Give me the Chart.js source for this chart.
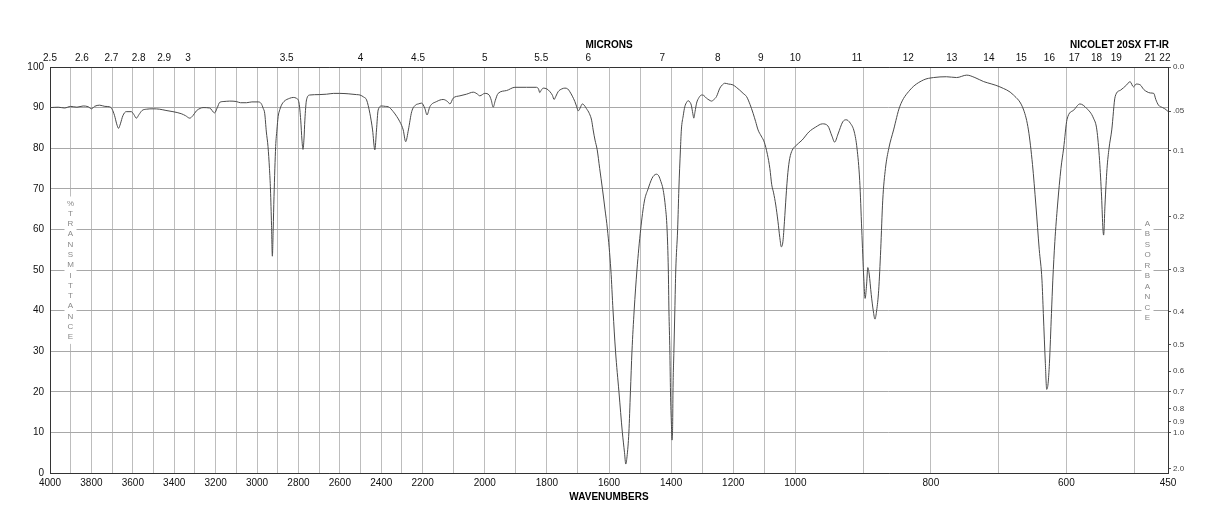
<!DOCTYPE html>
<html>
<head>
<meta charset="utf-8">
<script src="https://cdn.jsdelivr.net/npm/chart.js@4.4.0/dist/chart.umd.min.js"></script>
<style>
  html, body { margin: 0; padding: 0; background: #fff; }
  #wrap { width: 1218px; height: 528px; }
</style>
</head>
<body>
<div id="wrap"><canvas id="irChart" width="1218" height="528"></canvas></div>
<script>
// spectrum (cm-1, %T)
const wavenumbers = [
  4000, 3960, 3930, 3900, 3870, 3840, 3815, 3800, 3785, 3760, 3735, 3712, 3700, 3688, 3678, 3669, 3660, 3648, 3632, 3607,
  3595, 3583, 3570, 3555, 3535, 3500, 3470, 3440, 3406, 3366, 3345, 3325, 3310, 3293, 3275, 3261, 3229, 3205, 3192, 3180,
  3160, 3132, 3100, 3080, 3051, 3025, 2995, 2980, 2970, 2963, 2955, 2947, 2940, 2935, 2930, 2926, 2922, 2918, 2910, 2904,
  2898, 2890, 2882, 2870, 2842, 2825, 2810, 2797, 2789, 2783, 2778, 2773, 2769, 2761, 2745, 2700, 2664, 2630, 2600, 2560,
  2520, 2503, 2485, 2471, 2455, 2442, 2431, 2423, 2415, 2398, 2380, 2366, 2342, 2325, 2310, 2294, 2282, 2269, 2253, 2235,
  2221, 2205, 2193, 2186, 2177, 2155, 2134, 2120, 2112, 2102, 2080, 2059, 2037, 2025, 2016, 2000, 1986, 1979, 1973, 1966,
  1957, 1930, 1903, 1866, 1834, 1827, 1823, 1818, 1812, 1800, 1790, 1782, 1777, 1771, 1764, 1752, 1742, 1733, 1726, 1710,
  1704, 1699, 1693, 1686, 1680, 1673, 1663, 1656, 1651, 1645, 1638, 1630, 1621, 1613, 1605, 1594, 1587, 1579, 1568, 1557,
  1550, 1546, 1542, 1536, 1531, 1526, 1519, 1510, 1498, 1486, 1474, 1462, 1455, 1447, 1440, 1433, 1426, 1419, 1413, 1409,
  1407, 1404, 1402, 1399, 1397, 1395, 1394, 1391, 1388, 1385, 1379, 1375, 1370, 1367, 1361, 1356, 1350, 1345, 1340, 1335,
  1330, 1327, 1323, 1318, 1310, 1302, 1295, 1286, 1278, 1270, 1262, 1254, 1243, 1235, 1227, 1215, 1201, 1190, 1179, 1168,
  1157, 1146, 1136, 1128, 1120, 1110, 1100, 1090, 1082, 1076, 1070, 1063, 1056, 1050, 1045, 1040, 1035, 1030, 1024, 1018,
  1010, 1000, 990, 980, 970, 960, 952, 946, 942, 937, 930, 925, 919, 913, 909, 905, 902, 899, 897, 895,
  893, 891, 888, 885, 882.5, 880, 877, 874, 871, 867, 862, 855, 846, 831, 811, 796, 777, 762, 747, 735,
  722, 710, 698, 678, 663, 656, 650, 645, 640, 636, 634, 631, 629, 627, 625, 622, 620, 617, 613, 608,
  604, 599, 589, 580, 570, 560, 555, 551, 548, 546, 545, 543, 540, 537, 533, 528, 520, 511, 506, 501,
  497, 491, 486, 481, 476, 471, 468, 464, 458, 452, 450
];
const transmittance = [
  90.0, 90.1, 89.9, 90.3, 90.1, 90.4, 90.2, 89.7, 90.3, 90.6, 90.3, 90.2, 89.6, 88.0, 86.0, 84.9, 86.0, 88.0, 89.0, 89.0,
  88.3, 87.4, 88.3, 89.3, 89.6, 89.7, 89.6, 89.3, 89.0, 88.5, 88.0, 87.4, 88.0, 89.2, 89.8, 90.0, 89.9, 88.7, 90.0, 91.3,
  91.5, 91.6, 91.5, 91.2, 91.2, 91.4, 91.4, 91.0, 89.8, 88.6, 84.0, 80.4, 75.0, 69.7, 61.0, 53.4, 60.0, 68.1, 80.4, 84.5,
  87.8, 89.5, 90.6, 91.5, 92.3, 92.5, 92.3, 91.1, 86.9, 82.0, 79.7, 82.5, 86.9, 91.9, 93.1, 93.2, 93.3, 93.5, 93.5, 93.4,
  93.2, 93.1, 92.6, 91.9, 88.6, 84.5, 79.6, 84.5, 89.4, 90.4, 90.3, 90.2, 89.0, 87.8, 86.5, 84.5, 81.6, 84.5, 89.0, 90.6,
  90.9, 91.1, 89.8, 88.2, 90.2, 91.5, 92.0, 91.5, 90.9, 92.3, 92.9, 93.3, 93.8, 93.4, 92.9, 93.5, 93.1, 91.8, 90.1, 91.8,
  93.5, 94.2, 95.0, 95.0, 95.0, 94.6, 93.7, 94.3, 94.8, 94.6, 93.9, 93.0, 92.0, 92.8, 93.9, 94.6, 94.8, 94.6, 93.9, 91.5,
  90.2, 89.2, 89.9, 90.9, 90.6, 89.8, 88.5, 86.9, 84.5, 82.0, 79.6, 75.0, 69.9, 65.0, 60.0, 50.0, 40.0, 30.0, 20.0, 10.0,
  5.0, 2.2, 4.0, 10.0, 20.0, 30.0, 40.0, 50.0, 60.0, 67.0, 70.0, 72.5, 73.3, 73.6, 73.2, 71.8, 69.9, 66.0, 60.0, 50.0,
  40.0, 30.0, 20.0, 12.0, 8.1, 12.0, 20.0, 30.0, 40.0, 50.0, 60.0, 70.0, 79.6, 84.5, 88.0, 90.2, 91.3, 91.7, 91.4, 90.6,
  88.5, 87.4, 89.0, 91.1, 92.5, 93.1, 93.0, 92.3, 91.9, 91.6, 92.0, 92.7, 94.8, 95.6, 96.0, 95.8, 95.6, 95.0, 94.3, 93.5,
  92.7, 90.8, 88.6, 86.6, 84.5, 83.0, 81.5, 78.5, 75.0, 71.0, 69.0, 66.0, 62.0, 58.0, 55.7, 57.0, 62.0, 68.0, 74.0, 77.5,
  79.5, 80.5, 82.0, 84.0, 85.2, 86.0, 85.5, 83.0, 81.5, 83.5, 86.5, 87.0, 86.2, 84.0, 80.0, 72.0, 60.0, 48.0, 43.0, 46.0,
  50.6, 49.0, 44.0, 40.0, 37.9, 40.0, 45.0, 55.0, 67.2, 75.0, 80.0, 84.5, 90.2, 94.3, 96.8, 97.4, 97.6, 97.4, 98.0, 97.4,
  96.4, 95.8, 95.1, 93.1, 89.4, 84.5, 76.0, 66.0, 55.0, 47.5, 39.3, 27.0, 20.6, 22.0, 27.0, 39.3, 47.5, 57.0, 66.0, 75.0,
  80.0, 87.1, 89.4, 90.9, 89.8, 87.4, 84.5, 77.0, 68.0, 60.0, 58.6, 66.0, 75.0, 80.0, 84.5, 92.7, 94.3, 95.6, 96.4, 95.1,
  95.8, 95.6, 94.5, 93.9, 93.6, 93.5, 92.0, 90.6, 90.0, 89.4, 89.0
];

// tick labels
const wavenumberLabels = [4000, 3800, 3600, 3400, 3200, 3000, 2800, 2600, 2400, 2200, 2000, 1800, 1600, 1400, 1200, 1000, 800, 600, 450];
const micronLabels = [2.5, 2.6, 2.7, 2.8, 2.9, 3, 3.5, 4, 4.5, 5, 5.5, 6, 7, 8, 9, 10, 11, 12, 13, 14, 15, 16, 17, 18, 19, 21, 22];
const percentTicks = [0, 10, 20, 30, 40, 50, 60, 70, 80, 90, 100];
const absorbanceTicks = [0, 0.05, 0.1, 0.2, 0.3, 0.4, 0.5, 0.6, 0.7, 0.8, 0.9, 1.0, 2.0];
const absorbanceLabels = ["0.0", ".05", "0.1", "0.2", "0.3", "0.4", "0.5", "0.6", "0.7", "0.8", "0.9", "1.0", "2.0"];

// the x axis is three equal panels: 4000-2200, 2200-1000, 1000-450
function pos(w) {
  if (w >= 2200) return (4000 - w) / 1800;
  if (w >= 1000) return 1 + (2200 - w) / 1200;
  return 2 + (1000 - w) / 550;
}

// a vertical grid line every 100 cm-1
const gridWavenumbers = [];
for (let w = 4000; w >= 500; w -= 100) gridWavenumbers.push(w);
gridWavenumbers.push(450);

const points = wavenumbers.map((w, i) => ({ x: pos(w), y: transmittance[i] }));

const FONT = "'Liberation Sans', Arial, sans-serif";

const decorations = {
  id: "decorations",
  beforeDatasetsDraw(chart) {
    const { ctx, chartArea: a } = chart;
    const mid = (a.left + a.right) / 2;
    ctx.save();
    ctx.fillStyle = "#000";
    ctx.font = "bold 10px " + FONT;
    ctx.textBaseline = "middle";
    ctx.textAlign = "center";
    ctx.fillText("MICRONS", mid, 45);
    ctx.fillText("WAVENUMBERS", mid, 497);
    ctx.textAlign = "right";
    ctx.fillText("NICOLET 20SX FT-IR", a.right + 1, 45);

    // stacked vertical captions
    const stack = (text, x, y0, step) => {
      ctx.fillStyle = "#fff";
      ctx.fillRect(x - 6, y0 - 7, 12, step * (text.length - 1) + 14);
      ctx.fillStyle = "#888";
      ctx.font = "8px " + FONT;
      ctx.textAlign = "center";
      [...text].forEach((c, i) => ctx.fillText(c, x, y0 + i * step));
    };
    stack("%TRANSMITTANCE", 70.5, 203.5, 10.26);
    stack("ABSORBANCE", 1147.5, 223.5, 10.5);
    ctx.restore();
  }
};

new Chart(document.getElementById("irChart"), {
  type: "line",
  data: {
    datasets: [{
      data: points,
      borderColor: "#4a4a4a",
      borderWidth: 1,
      pointRadius: 0,
      cubicInterpolationMode: "monotone",
      xAxisID: "x",
      yAxisID: "y"
    }]
  },
  options: {
    responsive: false,
    animation: false,
    devicePixelRatio: 1,
    layout: { padding: 0 },
    plugins: { legend: { display: false }, tooltip: { enabled: false } },
    scales: {
      x: {
        type: "linear",
        position: "bottom",
        min: 0, max: 3,
        afterBuildTicks: s => { s.ticks = gridWavenumbers.map(w => ({ value: pos(w) })); },
        afterFit: s => { s.height = 55; },
        grid: { color: "#bdbdbd", lineWidth: 1, drawTicks: false },
        border: { display: true, color: "#333", width: 1 },
        ticks: {
          autoSkip: false, maxRotation: 0, padding: 4,
          color: "#111", font: { family: FONT, size: 10 },
          callback: (v, i) => wavenumberLabels.includes(gridWavenumbers[i]) ? String(gridWavenumbers[i]) : ""
        }
      },
      xTop: {
        type: "linear",
        position: "top",
        min: 0, max: 3,
        afterBuildTicks: s => { s.ticks = micronLabels.map(m => ({ value: pos(10000 / m) })); },
        afterFit: s => { s.height = 67; },
        grid: { display: false, drawTicks: false },
        border: { display: true, color: "#333", width: 1 },
        ticks: {
          autoSkip: false, maxRotation: 0, padding: 3,
          color: "#111", font: { family: FONT, size: 10 },
          callback: (v, i) => String(micronLabels[i])
        }
      },
      y: {
        type: "linear",
        position: "left",
        min: 0, max: 100,
        afterBuildTicks: s => { s.ticks = percentTicks.map(t => ({ value: t })); },
        afterFit: s => { s.width = 50; },
        grid: { color: "#a8a8a8", lineWidth: 1, drawTicks: false },
        border: { display: true, color: "#333", width: 1 },
        ticks: { padding: 6, color: "#111", font: { family: FONT, size: 10 } }
      },
      yAbs: {
        type: "linear",
        position: "right",
        min: 0, max: 100,
        afterBuildTicks: s => { s.ticks = absorbanceTicks.map(a => ({ value: 100 * Math.pow(10, -a) })); },
        afterFit: s => { s.width = 50; },
        grid: { drawOnChartArea: false, tickLength: 3, color: "#555" },
        border: { display: true, color: "#333", width: 1 },
        ticks: {
          autoSkip: false, padding: 2, color: "#444", font: { family: FONT, size: 8 },
          callback: (v, i) => absorbanceLabels[i]
        }
      }
    }
  },
  plugins: [decorations]
});
</script>
</body>
</html>
